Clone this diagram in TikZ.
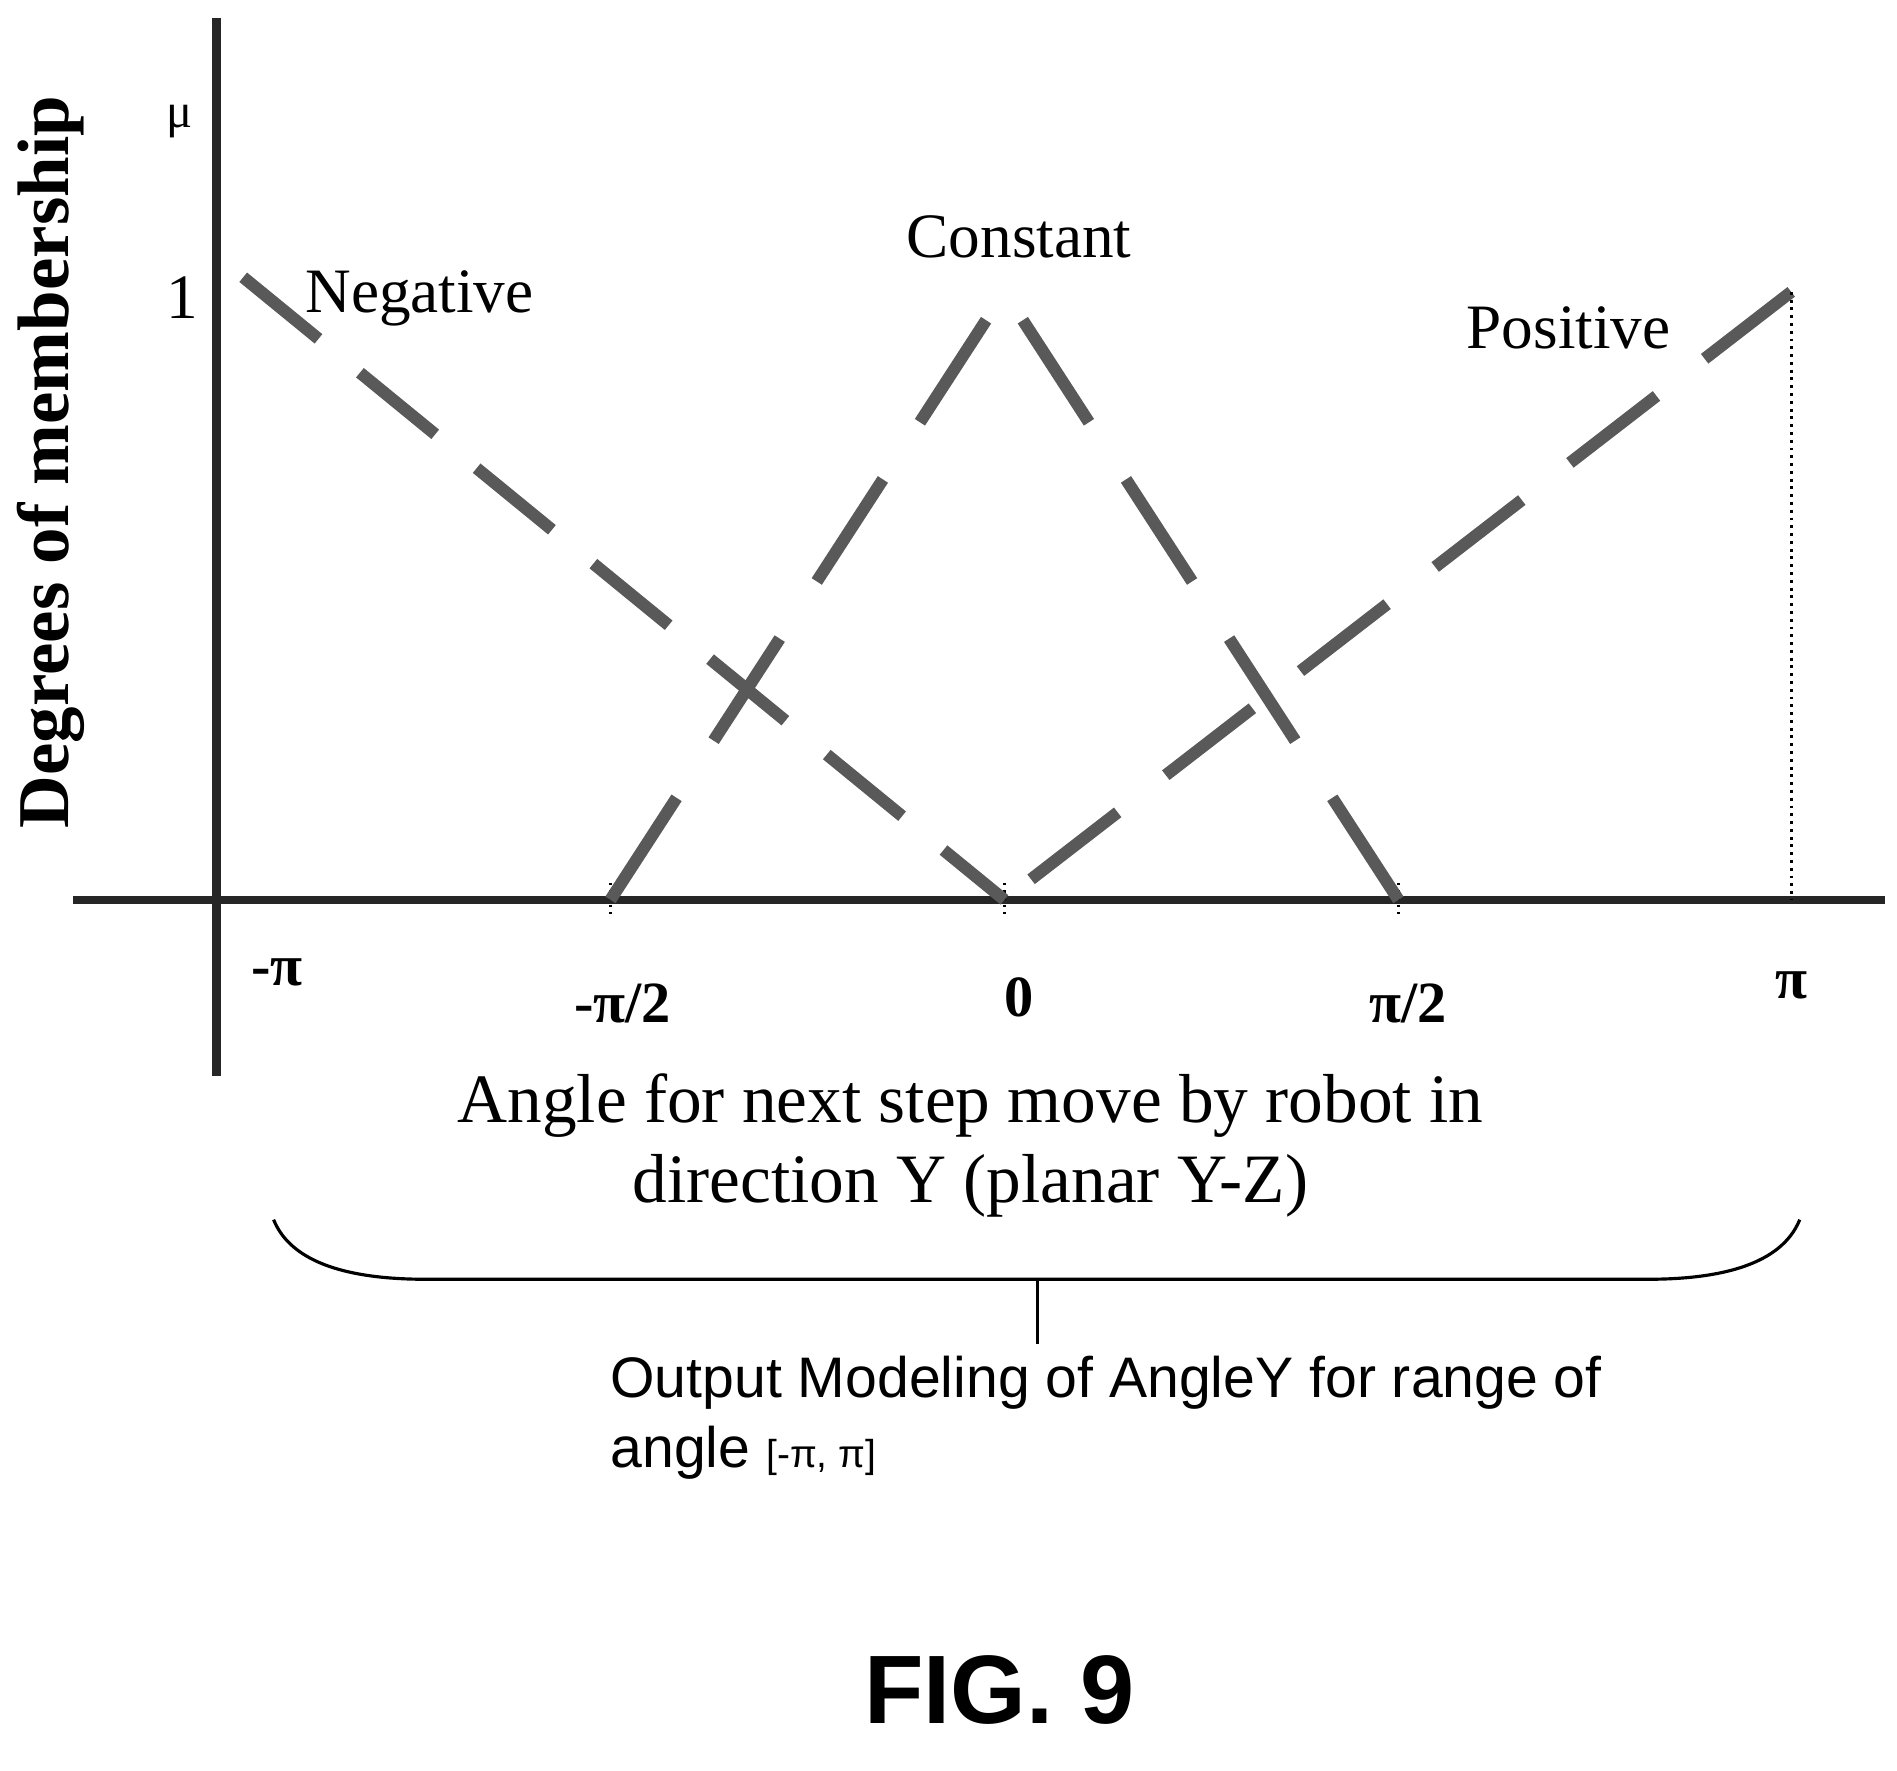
\documentclass[tikz,border=0pt]{standalone}
\usepackage{fontspec}
\setmainfont{Liberation Serif}
\setsansfont{Liberation Sans}
\begin{document}
\begin{tikzpicture}[x=0.5pt,y=-0.5pt,
  axis/.style={line width=3.5pt,black!85},
  mf/.style={line width=5pt,black!65,dash pattern=on 40pt off 22pt},
  lbl/.style={font=\fontsize{26}{30}\selectfont},
  tick/.style={font=\bfseries\fontsize{24}{28}\selectfont}]
\useasboundingbox (0,0) rectangle (1560,1456);
% axes
\coordinate (yt) at (178,15); \coordinate (yb) at (178,885);
\coordinate (xl) at (60,740); \coordinate (xr) at (1550,740);
\draw[axis] (yt) -- (yb);
\draw[axis] (xl) -- (xr);
% key points
\coordinate (n1) at (200,228);
\coordinate (m2) at (502,740);
\coordinate (z) at (826,740);
\coordinate (top) at (826,240);
\coordinate (p2) at (1150,740);
\coordinate (pt) at (1473,240);
\coordinate (pb) at (1473,740);
% small ticks
\foreach \c in {m2,z,p2} \draw[line width=1pt,dotted] (\c) ++(0,-14) -- ++(0,28);
% membership functions
\draw[mf] (n1) -- (z);
\draw[mf,dash pattern=on 50pt off 28pt] (m2) -- (top);
\draw[mf,dash pattern=on 50pt off 28pt] (p2) -- (top);
\draw[mf,dash pattern=on 45pt off 25pt] (pt) -- (z);
\draw[line width=1.2pt,dotted] (pt) -- (pb);
% labels
\node[font=\fontsize{20}{24}\selectfont] (mu) at (148,100) {μ};
\node[lbl] (one) at (150,245) {1};
\node[rotate=90,font=\bfseries\fontsize{30}{34}\selectfont] (ylab) at (42,380) {Degrees of membership};
\node[lbl] (neg) at (345,245) {Negative};
\node[lbl] (con) at (838,195) {Constant};
\node[lbl] (pos) at (1290,270) {Positive};
\node[tick] (t1) at (228,800) {-π};
\node[tick] (t2) at (512,825) {-π/2};
\node[tick] (t3) at (838,820) {0};
\node[tick] (t4) at (1158,825) {π/2};
\node[tick] (t5) at (1473,810) {π};
\node[align=center,font=\fontsize{28.5}{33}\selectfont] (xlab) at (798,942) {Angle for next step move by robot in\\direction Y (planar Y-Z)};
% brace
\coordinate (b1) at (225,1003); \coordinate (b2) at (1480,1003);
\coordinate (bm) at (853,1052); \coordinate (bt) at (853,1105);
\draw[line width=1.3pt] (b1) .. controls (240,1040) and (290,1052) .. (350,1052) -- (1355,1052) .. controls (1415,1052) and (1465,1040) .. (b2);
\draw[line width=1.3pt] (bm) -- (bt);
\node[anchor=west,align=left,font=\sffamily\fontsize{23.5}{29}\selectfont] (out) at (495,1166) {Output Modeling of AngleY for range of\\angle {\fontsize{16}{18}\selectfont [-π, π]}};
\node[font=\sffamily\bfseries\fontsize{40}{44}\selectfont] (fig) at (822,1390) {FIG. 9};
\end{tikzpicture}
\end{document}
